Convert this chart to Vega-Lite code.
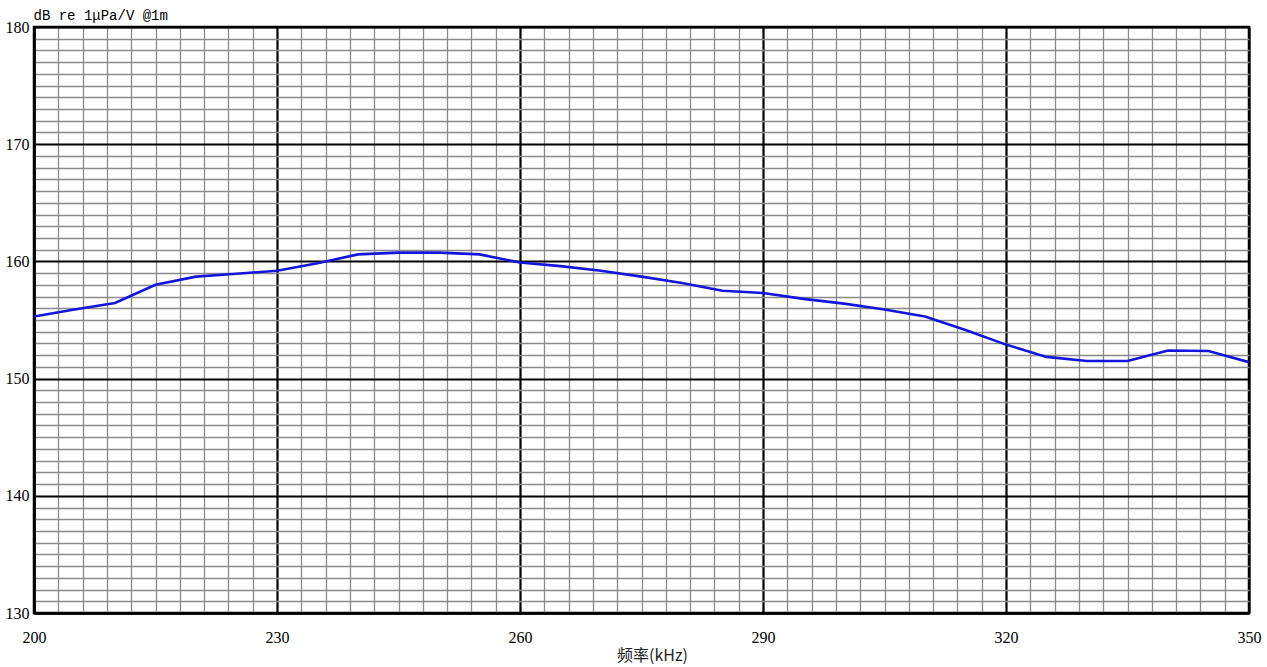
{
  "$schema": "https://vega.github.io/schema/vega-lite/v6.json",
  "autosize": {"type": "none"},
  "width": 1215,
  "height": 586,
  "padding": {"left": 34, "top": 27, "right": 18, "bottom": 54},
  "background": "white",
  "config": {"view": {"stroke": "black", "strokeWidth": 2.5}},
  "data": {"values": [
    {"f": 200, "db": 155.3},
    {"f": 205, "db": 155.9},
    {"f": 210, "db": 156.45},
    {"f": 215, "db": 158.0},
    {"f": 220, "db": 158.7},
    {"f": 225, "db": 158.95},
    {"f": 230, "db": 159.2},
    {"f": 235, "db": 159.85},
    {"f": 240, "db": 160.6},
    {"f": 245, "db": 160.75},
    {"f": 250, "db": 160.75},
    {"f": 255, "db": 160.6},
    {"f": 260, "db": 159.9},
    {"f": 265, "db": 159.6},
    {"f": 270, "db": 159.2},
    {"f": 275, "db": 158.7},
    {"f": 280, "db": 158.15},
    {"f": 285, "db": 157.5},
    {"f": 290, "db": 157.3},
    {"f": 295, "db": 156.8},
    {"f": 300, "db": 156.4},
    {"f": 305, "db": 155.9},
    {"f": 310, "db": 155.3},
    {"f": 315, "db": 154.15},
    {"f": 320, "db": 152.9},
    {"f": 325, "db": 151.85},
    {"f": 330, "db": 151.5},
    {"f": 335, "db": 151.5},
    {"f": 340, "db": 152.4},
    {"f": 345, "db": 152.35},
    {"f": 350, "db": 151.4}
  ]},
  "mark": {"type": "line", "color": "#1414dc", "strokeWidth": 2.6, "clip": true},
  "encoding": {
    "x": {
      "field": "f", "type": "quantitative",
      "scale": {"domain": [200, 350], "nice": false, "zero": false},
      "axis": {
        "values": [200,203,206,209,212,215,218,221,224,227,230,233,236,239,242,245,248,251,254,257,260,263,266,269,272,275,278,281,284,287,290,293,296,299,302,305,308,311,314,317,320,323,326,329,332,335,338,341,344,347,350],
        "labelExpr": "(datum.value - 200) % 30 === 0 ? datum.label : ''",
        "labelOverlap": false,
        "labelFlush": false,
        "labelFont": "Liberation Serif",
        "labelFontSize": 16,
        "labelColor": "black",
        "labelPadding": 16,
        "ticks": false,
        "domainColor": "black",
        "domainWidth": 2.5,
        "grid": true,
        "gridColor": {"condition": {"test": "(datum.value - 200) % 30 === 0", "value": "black"}, "value": "#8a8a8a"},
        "gridWidth": {"condition": {"test": "(datum.value - 200) % 30 === 0", "value": 2.2}, "value": 1.3},
        "gridOpacity": 1,
        "title": "频率(kHz)",
        "titleFont": "Noto Sans CJK SC",
        "titleFontSize": 16,
        "titleFontWeight": "normal",
        "titleColor": "#222",
        "titleX": 618,
        "titleY": 47,
        "titleBaseline": "alphabetic",
        "titleAlign": "center"
      }
    },
    "y": {
      "field": "db", "type": "quantitative",
      "scale": {"domain": [130, 180], "nice": false, "zero": false},
      "axis": {
        "values": [130,131,132,133,134,135,136,137,138,139,140,141,142,143,144,145,146,147,148,149,150,151,152,153,154,155,156,157,158,159,160,161,162,163,164,165,166,167,168,169,170,171,172,173,174,175,176,177,178,179,180],
        "labelExpr": "datum.value % 10 === 0 ? datum.label : ''",
        "labelOverlap": false,
        "labelFlush": false,
        "labelFont": "Liberation Serif",
        "labelFontSize": 16,
        "labelColor": "black",
        "labelPadding": 5,
        "labelBaseline": "middle",
        "ticks": false,
        "domainColor": "black",
        "domainWidth": 2.5,
        "grid": true,
        "gridColor": {"condition": {"test": "datum.value % 10 === 0", "value": "black"}, "value": "#8a8a8a"},
        "gridWidth": {"condition": {"test": "datum.value % 10 === 0", "value": 2.2}, "value": 1.3},
        "gridOpacity": 1,
        "title": "dB re 1μPa/V @1m",
        "titleFont": "Liberation Mono",
        "titleFontSize": 14,
        "titleFontWeight": "normal",
        "titleColor": "black",
        "titleAngle": 0,
        "titleAlign": "left",
        "titleBaseline": "alphabetic",
        "titleX": -1,
        "titleY": -8
      }
    }
  }
}
